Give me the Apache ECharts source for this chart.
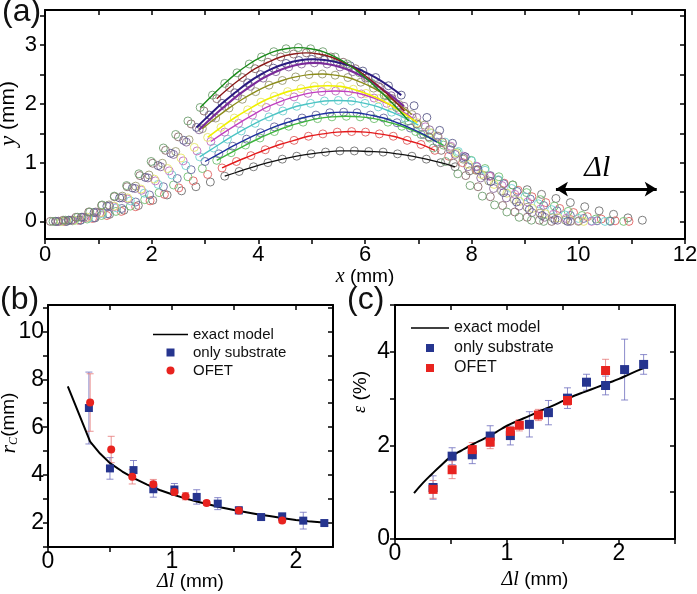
<!DOCTYPE html>
<html><head><meta charset="utf-8">
<script src="https://cdn.jsdelivr.net/npm/echarts@6/dist/echarts.min.js"></script>
<style>html,body{margin:0;padding:0;background:#fff}#c{width:697px;height:594px}</style>
</head><body><div id="c"></div>
<script>
// ================= Panel (a): measured profiles (x, y in mm) =================
const p1x = [0.4,0.67,0.94,1.21,1.48,1.75,2.02,2.29,2.56,2.83,3.1,3.37,3.64,3.91,4.18,4.45,4.72,4.99,5.26,5.53,5.8,6.07,6.34,6.61,6.88,7.15,7.42,7.69,7.96,8.23,8.5,8.77,9.04,9.31,9.58,9.85,10.12,10.39,10.66,10.93,11.2];
const p1y = [0,0.02,0.06,0.12,0.19,0.27,0.36,0.45,0.52,0.59,0.67,0.77,0.85,0.93,1.0,1.06,1.11,1.15,1.18,1.2,1.2,1.19,1.18,1.15,1.11,1.06,1.0,0.93,0.86,0.78,0.7,0.62,0.54,0.46,0.39,0.32,0.25,0.18,0.12,0.06,0.02];
const p2x = [0.35,0.62,0.89,1.16,1.43,1.7,1.97,2.24,2.51,2.78,3.05,3.32,3.59,3.86,4.13,4.4,4.67,4.94,5.21,5.48,5.75,6.01,6.27,6.53,6.79,7.05,7.31,7.57,7.83,8.09,8.35,8.61,8.87,9.13,9.39,9.65,9.91,10.17,10.43,10.69,10.95];
const p2y = [0,0.02,0.05,0.1,0.17,0.25,0.35,0.46,0.57,0.69,0.8,0.91,1.02,1.12,1.22,1.31,1.38,1.45,1.49,1.52,1.53,1.52,1.49,1.45,1.38,1.31,1.21,1.11,1.0,0.88,0.77,0.65,0.53,0.42,0.32,0.22,0.15,0.08,0.04,0.01,0];
const p3x = [0.25,0.52,0.79,1.06,1.33,1.6,1.87,2.14,2.41,2.68,2.95,3.22,3.49,3.76,4.03,4.3,4.57,4.84,5.11,5.38,5.65,5.91,6.17,6.43,6.69,6.95,7.21,7.47,7.73,7.99,8.25,8.51,8.77,9.03,9.29,9.55,9.81,10.07,10.33,10.59,10.85];
const p3y = [0,0.01,0.04,0.1,0.17,0.26,0.37,0.49,0.62,0.76,0.9,1.04,1.17,1.3,1.42,1.53,1.62,1.69,1.75,1.78,1.79,1.78,1.75,1.69,1.62,1.53,1.42,1.3,1.17,1.04,0.9,0.76,0.62,0.49,0.37,0.26,0.17,0.1,0.04,0.01,0];
const p4x = [0.4,0.66,0.92,1.18,1.44,1.7,1.96,2.22,2.48,2.74,3.0,3.26,3.52,3.78,4.04,4.3,4.56,4.82,5.08,5.34,5.6,5.85,6.1,6.35,6.6,6.85,7.1,7.35,7.6,7.85,8.1,8.35,8.6,8.85,9.1,9.35,9.6,9.85,10.1,10.35,10.6];
const p4y = [0,0.02,0.06,0.13,0.22,0.33,0.45,0.59,0.73,0.88,1.02,1.15,1.28,1.4,1.51,1.61,1.69,1.76,1.81,1.85,1.86,1.85,1.81,1.76,1.68,1.59,1.48,1.35,1.22,1.08,0.93,0.78,0.64,0.51,0.38,0.27,0.18,0.1,0.05,0.01,0];
const p5x = [0.3,0.56,0.82,1.08,1.34,1.6,1.86,2.12,2.38,2.64,2.9,3.16,3.42,3.68,3.94,4.2,4.46,4.72,4.98,5.24,5.5,5.75,6.0,6.25,6.5,6.75,7.0,7.25,7.5,7.75,8.0,8.25,8.5,8.75,9.0,9.25,9.5,9.75,10.0,10.25,10.5];
const p5y = [0,0.02,0.06,0.13,0.23,0.35,0.48,0.63,0.79,0.95,1.1,1.25,1.4,1.54,1.67,1.78,1.88,1.96,2.01,2.05,2.06,2.05,2.01,1.95,1.86,1.76,1.64,1.5,1.35,1.19,1.03,0.87,0.71,0.56,0.42,0.3,0.2,0.11,0.05,0.01,0];
const p6x = [0.25,0.51,0.77,1.03,1.29,1.55,1.81,2.07,2.33,2.59,2.85,3.11,3.37,3.63,3.89,4.15,4.41,4.67,4.93,5.19,5.45,5.69,5.93,6.17,6.41,6.65,6.89,7.13,7.37,7.61,7.85,8.09,8.33,8.57,8.81,9.05,9.29,9.53,9.77,10.01,10.25];
const p6y = [0,0.02,0.06,0.14,0.25,0.38,0.53,0.69,0.86,1.03,1.2,1.36,1.52,1.67,1.81,1.94,2.04,2.12,2.18,2.21,2.22,2.21,2.17,2.1,2.01,1.9,1.76,1.61,1.45,1.28,1.11,0.94,0.77,0.61,0.46,0.33,0.21,0.12,0.05,0.01,0];
const p7x = [0.3,0.55,0.8,1.05,1.3,1.55,1.8,2.05,2.3,2.55,2.8,3.05,3.3,3.55,3.8,4.05,4.3,4.55,4.8,5.05,5.3,5.54,5.78,6.02,6.26,6.5,6.74,6.98,7.22,7.46,7.7,7.94,8.18,8.42,8.66,8.9,9.14,9.38,9.62,9.86,10.1];
const p7y = [0,0.02,0.07,0.15,0.26,0.4,0.55,0.72,0.9,1.08,1.26,1.43,1.6,1.76,1.9,2.03,2.13,2.21,2.26,2.3,2.31,2.3,2.25,2.18,2.09,1.97,1.83,1.68,1.51,1.34,1.16,0.97,0.8,0.63,0.48,0.34,0.22,0.13,0.06,0.01,0];
const p8x = [0.2,0.45,0.7,0.95,1.2,1.45,1.7,1.95,2.2,2.45,2.7,2.95,3.2,3.45,3.7,3.95,4.2,4.45,4.7,4.95,5.2,5.44,5.68,5.92,6.16,6.4,6.64,6.88,7.12,7.36,7.6,7.84,8.08,8.32,8.56,8.8,9.04,9.28,9.52,9.76,10.0];
const p8y = [0,0.02,0.07,0.16,0.28,0.43,0.6,0.79,0.99,1.19,1.39,1.58,1.76,1.93,2.08,2.21,2.32,2.4,2.46,2.5,2.51,2.49,2.45,2.37,2.27,2.14,1.99,1.82,1.64,1.45,1.26,1.06,0.87,0.69,0.52,0.37,0.24,0.14,0.06,0.02,0];
const p9x = [0.25,0.49,0.73,0.97,1.21,1.45,1.69,1.93,2.17,2.41,2.65,2.89,3.13,3.37,3.61,3.85,4.09,4.33,4.57,4.81,5.05,5.29,5.53,5.77,6.01,6.25,6.49,6.73,6.97,7.21,7.45,7.69,7.93,8.17,8.41,8.65,8.89,9.13,9.37,9.61,9.85];
const p9y = [0,0.02,0.07,0.15,0.26,0.4,0.56,0.74,0.93,1.14,1.35,1.56,1.77,1.96,2.14,2.3,2.44,2.55,2.63,2.68,2.7,2.68,2.63,2.55,2.44,2.3,2.14,1.96,1.77,1.56,1.35,1.14,0.93,0.74,0.56,0.4,0.26,0.15,0.07,0.02,0];
const p10x = [0.2,0.44,0.68,0.92,1.16,1.4,1.64,1.88,2.12,2.36,2.6,2.84,3.08,3.32,3.56,3.8,4.04,4.28,4.52,4.76,5.0,5.24,5.48,5.72,5.96,6.2,6.44,6.68,6.92,7.16,7.4,7.64,7.88,8.12,8.36,8.6,8.84,9.08,9.32,9.56,9.8];
const p10y = [0,0.02,0.07,0.15,0.26,0.4,0.57,0.75,0.95,1.16,1.38,1.6,1.81,2.01,2.19,2.36,2.5,2.61,2.69,2.74,2.76,2.75,2.71,2.65,2.56,2.45,2.31,2.15,1.97,1.77,1.55,1.33,1.1,0.88,0.68,0.49,0.33,0.2,0.1,0.03,0];
const p11x = [0.1,0.34,0.58,0.82,1.06,1.3,1.54,1.78,2.02,2.26,2.5,2.74,2.98,3.22,3.46,3.7,3.94,4.18,4.42,4.66,4.9,5.13,5.36,5.59,5.82,6.05,6.28,6.51,6.74,6.97,7.2,7.43,7.66,7.89,8.12,8.35,8.58,8.81,9.04,9.27,9.5];
const p11y = [0,0.02,0.07,0.16,0.27,0.42,0.59,0.78,0.99,1.21,1.44,1.66,1.88,2.09,2.28,2.45,2.6,2.71,2.8,2.85,2.87,2.85,2.8,2.71,2.6,2.45,2.28,2.09,1.88,1.66,1.44,1.21,0.99,0.78,0.59,0.42,0.27,0.16,0.07,0.02,0];
const p12x = [0.15,0.38,0.61,0.84,1.07,1.3,1.53,1.76,1.99,2.22,2.45,2.68,2.91,3.14,3.37,3.6,3.83,4.06,4.29,4.52,4.75,4.98,5.21,5.44,5.67,5.9,6.13,6.36,6.59,6.82,7.05,7.28,7.51,7.74,7.97,8.2,8.43,8.66,8.89,9.12,9.35];
const p12y = [0,0.02,0.07,0.16,0.28,0.43,0.61,0.81,1.02,1.25,1.48,1.71,1.94,2.15,2.35,2.53,2.68,2.8,2.89,2.94,2.96,2.94,2.89,2.8,2.68,2.53,2.35,2.15,1.94,1.71,1.48,1.25,1.02,0.81,0.61,0.43,0.28,0.16,0.07,0.02,0];
// x-range covered by each fitted curve
const fitFrom = [3.3,3.1,3.1,3.0,2.85,3.0,3.0,2.95,2.8,2.8,3.15,2.85];
const fitTo   = [7.7,7.4,7.5,7.4,7.2,7.0,7.0,6.9,6.8,6.8,6.8,6.85];
// Δl arrow (data coordinates)
const arrowFrom = [9.58, 0.55];
const arrowTo = [11.47, 0.55];

// ================= Panel (b): r_C vs Δl =================
const bModelX = [0.16,0.34,0.42,0.5,0.6,0.7,0.8,0.9,1.0,1.1,1.2,1.3,1.4,1.5,1.6,1.7,1.8,1.9,2.0,2.1,2.22];
const bModelY = [7.7,5.4,4.9,4.5,4.15,3.85,3.6,3.38,3.2,3.04,2.9,2.77,2.65,2.54,2.45,2.36,2.28,2.2,2.13,2.07,2.02];
const bSubX = [0.33,0.5,0.69,0.85,1.02,1.2,1.37,1.54,1.72,1.89,2.06,2.23];
const bSubY = [6.8,4.28,4.21,3.41,3.4,3.09,2.81,2.53,2.25,2.28,2.1,2.0];
const bSubErr = [1.5,0.45,0.4,0.33,0.25,0.3,0.25,0.15,0.08,0.1,0.35,0.06];
const bOfetX = [0.34,0.51,0.68,0.85,1.02,1.11,1.28,1.54,1.89];
const bOfetY = [7.03,5.07,3.93,3.62,3.3,3.12,2.84,2.52,2.11];
const bOfetErr = [1.2,0.55,0.3,0.2,0.12,0.15,0.1,0.1,0.1];

// ================= Panel (c): ε vs Δl =================
const cModelX = [0.17,0.25,0.33,0.4,0.5,0.6,0.7,0.8,0.9,1.0,1.1,1.2,1.3,1.4,1.5,1.6,1.7,1.8,1.9,2.0,2.1,2.22];
const cModelY = [0.98,1.2,1.39,1.55,1.76,1.9,2.03,2.15,2.28,2.42,2.53,2.63,2.74,2.84,2.95,3.06,3.15,3.24,3.33,3.42,3.53,3.65];
const cSubX = [0.34,0.51,0.69,0.85,1.03,1.2,1.37,1.54,1.71,1.88,2.05,2.22];
const cSubY = [1.1,1.77,1.8,2.2,2.21,2.45,2.7,3.01,3.35,3.28,3.62,3.73];
const cSubErr = [0.25,0.18,0.19,0.22,0.2,0.27,0.26,0.22,0.17,0.2,0.65,0.21];
const cOfetX = [0.34,0.51,0.69,0.85,1.03,1.11,1.28,1.54,1.88];
const cOfetY = [1.06,1.48,1.91,2.07,2.3,2.43,2.65,2.96,3.6];
const cOfetErr = [0.19,0.19,0.15,0.14,0.1,0.12,0.12,0.1,0.24];

// ================= Tick values =================
const aXTicks = [0,1,2,3,4,5,6,7,8,9,10,11,12];
const aXLabels = [0,2,4,6,8,10,12];
const aYTicks = [0,0.5,1,1.5,2,2.5,3,3.5];
const aYLabels = [0,1,2,3];
const bXTicks = [0,0.5,1,1.5,2];
const bXLabels = [0,1,2];
const bYTicks = [1,2,3,4,5,6,7,8,9,10,11];
const bYLabels = [2,4,6,8,10];
const cXTicks = [0,0.5,1,1.5,2,2.5];
const cXLabels = [0,1,2];
const cYTicks = [0,1,2,3,4,5];
const cYLabels = [0,2,4];

// ================= Styles =================
const SANS = 'Liberation Sans, Arial, sans-serif';
const SERIF = 'Liberation Serif, Times New Roman, serif';
const lineColors = ['#111111','#e41a1c','#3cb43c','#1f2f9f','#4cc4c4','#c040c0','#f0f000','#8c8c1a','#7a2a9a','#2a1a80','#8b1a1a','#1a8a1a'];
const circleColors = ['#707070','#e06060','#70c070','#6a6aa0','#70d0d0','#c070c0','#e6e66a','#9a9a70','#8a6a9a','#5a5a8a','#8a6a6a','#70a070'];
const lineWidths = [1.3,1.4,1.4,1.4,1.4,1.4,1.6,1.4,2.2,2.0,1.4,1.4];

const profX = [p1x,p2x,p3x,p4x,p5x,p6x,p7x,p8x,p9x,p10x,p11x,p12x];
const profY = [p1y,p2y,p3y,p4y,p5y,p6y,p7y,p8y,p9y,p10y,p11y,p12y];

const chart = echarts.init(document.getElementById('c'), null, {renderer:'canvas'});

const italicRich = (size) => ({ i:{fontStyle:'italic', fontFamily:SERIF, fontSize:size, color:'#000'} });

function bottomAxis(grid, min, max, ticks, labels, name, gap, margin, fs){
  return {type:'value', gridIndex:grid, position:'bottom', min, max,
    axisLine:{show:true, onZero:false, lineStyle:{color:'#000', width:2}},
    axisTick:{show:true, inside:false, length:5, customValues:ticks, lineStyle:{color:'#000', width:1.5}},
    axisLabel:{show:true, customValues:labels, fontSize:fs, fontFamily:SANS, color:'#000', margin:margin},
    splitLine:{show:false},
    name:name, nameLocation:'middle', nameGap:gap, nameMoveOverlap:false,
    nameTextStyle:{fontSize:19, fontFamily:SANS, color:'#000', rich:italicRich(20)}};
}
function topAxis(grid, min, max, ticks){
  return {type:'value', gridIndex:grid, position:'top', min, max,
    axisLine:{show:true, onZero:false, lineStyle:{color:'#000', width:2}},
    axisTick:{show:true, inside:true, length:5, customValues:ticks, lineStyle:{color:'#000', width:1.5}},
    axisLabel:{show:false}, splitLine:{show:false}};
}
function leftAxis(grid, min, max, ticks, labels, name, gap, margin, pad, rich, fs, nfs){
  return {type:'value', gridIndex:grid, position:'left', min, max,
    axisLine:{show:true, onZero:false, lineStyle:{color:'#000', width:2}},
    axisTick:{show:true, inside:false, length:5, customValues:ticks, lineStyle:{color:'#000', width:1.5}},
    axisLabel:{show:true, customValues:labels, fontSize:fs, fontFamily:SANS, color:'#000', margin:margin},
    splitLine:{show:false},
    name:name, nameLocation:'middle', nameGap:gap, nameRotate:90, nameMoveOverlap:false,
    nameTextStyle:{fontSize:nfs, fontFamily:SANS, color:'#000', padding:pad, rich:rich}};
}
function rightAxis(grid, min, max, ticks){
  return {type:'value', gridIndex:grid, position:'right', min, max,
    axisLine:{show:true, onZero:false, lineStyle:{color:'#000', width:2}},
    axisTick:{show:true, inside:true, length:5, customValues:ticks, lineStyle:{color:'#000', width:1.5}},
    axisLabel:{show:false}, splitLine:{show:false}};
}

function errRender(color){
  return function(params, api){
    const x = api.value(0), y = api.value(1), e = api.value(2);
    const t = api.coord([x, y + e]), b = api.coord([x, y - e]);
    const w = 3.5;
    const st = {stroke:color, lineWidth:1};
    return {type:'group', children:[
      {type:'line', shape:{x1:t[0], y1:t[1], x2:b[0], y2:b[1]}, style:st},
      {type:'line', shape:{x1:t[0]-w, y1:t[1], x2:t[0]+w, y2:t[1]}, style:st},
      {type:'line', shape:{x1:b[0]-w, y1:b[1], x2:b[0]+w, y2:b[1]}, style:st}
    ]};
  };
}
const zip2 = (xs, ys) => xs.map((x, i) => [x, ys[i]]);
const zip3 = (xs, ys, es) => xs.map((x, i) => [x, ys[i], es[i]]);

const series = [];
// panel (a)
profX.forEach((xs, k) => {
  const pts = zip2(xs, profY[k]);
  const sc = {type:'scatter', xAxisIndex:0, yAxisIndex:0, data:pts, symbol:'circle', symbolSize:8,
    itemStyle:{color:'rgba(0,0,0,0)', borderColor:circleColors[k], borderWidth:1, opacity:0.9},
    silent:true, z:2, animation:false};
  if (k === 0) {
    sc.markLine = {silent:true, symbol:['arrow','arrow'], symbolSize:[11,12], animation:false,
      lineStyle:{color:'#000', width:3, type:'solid'},
      label:{show:true, formatter:'Δl', position:'insideMiddleTop', distance:6, fontSize:30,
        fontStyle:'italic', fontFamily:SERIF, color:'#000', padding:[0,18,0,0]},
      emphasis:{disabled:true},
      data:[[{coord:arrowFrom}, {coord:arrowTo}]]};
  }
  series.push(sc);
  series.push({type:'line', xAxisIndex:0, yAxisIndex:0,
    data:pts.filter(p => p[0] >= fitFrom[k] && p[0] <= fitTo[k]),
    smooth:0.4, symbol:'none', lineStyle:{color:lineColors[k], width:lineWidths[k]},
    silent:true, z:3, animation:false});
});
// panel (b)
series.push({type:'custom', name:'errSubB', xAxisIndex:2, yAxisIndex:2, data:zip3(bSubX,bSubY,bSubErr), renderItem:errRender('rgba(110,110,190,0.8)'), z:3, silent:true, animation:false});
series.push({type:'custom', name:'errOfetB', xAxisIndex:2, yAxisIndex:2, data:zip3(bOfetX,bOfetY,bOfetErr), renderItem:errRender('rgba(230,120,120,0.8)'), z:3, silent:true, animation:false});
series.push({type:'line', name:'exact model', xAxisIndex:2, yAxisIndex:2, data:zip2(bModelX,bModelY), symbol:'none', smooth:false, lineStyle:{color:'#000', width:2}, itemStyle:{color:'#000'}, z:4, animation:false});
series.push({type:'scatter', name:'only substrate', xAxisIndex:2, yAxisIndex:2, data:zip2(bSubX,bSubY), symbol:'rect', symbolSize:8, itemStyle:{color:'#26358f', opacity:1}, z:5, animation:false});
series.push({type:'scatter', name:'OFET', xAxisIndex:2, yAxisIndex:2, data:zip2(bOfetX,bOfetY), symbol:'circle', symbolSize:8, itemStyle:{color:'#e8231f', opacity:1}, z:6, animation:false});
// panel (c)
series.push({type:'custom', name:'errSubC', xAxisIndex:4, yAxisIndex:4, data:zip3(cSubX,cSubY,cSubErr), renderItem:errRender('rgba(110,110,190,0.8)'), z:3, silent:true, animation:false});
series.push({type:'custom', name:'errOfetC', xAxisIndex:4, yAxisIndex:4, data:zip3(cOfetX,cOfetY,cOfetErr), renderItem:errRender('rgba(230,120,120,0.8)'), z:3, silent:true, animation:false});
series.push({type:'line', name:'exact model', xAxisIndex:4, yAxisIndex:4, data:zip2(cModelX,cModelY), symbol:'none', smooth:true, lineStyle:{color:'#000', width:2}, itemStyle:{color:'#000'}, z:4, animation:false});
series.push({type:'scatter', name:'only substrate', xAxisIndex:4, yAxisIndex:4, data:zip2(cSubX,cSubY), symbol:'rect', symbolSize:9, itemStyle:{color:'#26358f', opacity:1}, z:5, animation:false});
series.push({type:'scatter', name:'OFET', xAxisIndex:4, yAxisIndex:4, data:zip2(cOfetX,cOfetY), symbol:'rect', symbolSize:9, itemStyle:{color:'#e8231f', opacity:1}, z:6, animation:false});

const SQ = 'path://M0,0H10V10H0Z';
const LN = 'path://M0,0H200V9H0Z';
const option = {
  backgroundColor:'#fff',
  animation:false,
  grid:[
    {left:45, top:10, width:640, height:229, outerBoundsMode:'none', containLabel:false},
    {left:48, top:305, width:285, height:242, outerBoundsMode:'none', containLabel:false},
    {left:395, top:305, width:280, height:234, outerBoundsMode:'none', containLabel:false}
  ],
  xAxis:[
    bottomAxis(0, 0, 12, aXTicks, aXLabels, '{i|x} (mm)', 28, 5, 22),
    topAxis(0, 0, 12, aXTicks),
    bottomAxis(1, 0, 2.3, bXTicks, bXLabels, '{i|Δl} (mm)', 25, 3, 23),
    topAxis(1, 0, 2.3, bXTicks),
    bottomAxis(2, 0, 2.5, cXTicks, cXLabels, '{i|Δl} (mm)', 31, 3, 23),
    topAxis(2, 0, 2.5, cXTicks)
  ],
  yAxis:[
    leftAxis(0, -0.3, 3.6, aYTicks, aYLabels, '{i|y} (mm)', 25, 8, [0,0,0,22], italicRich(23), 22, 21),
    rightAxis(0, -0.3, 3.6, aYTicks),
    leftAxis(1, 1, 11.1, bYTicks, bYLabels, '{i|r}{s|C}(mm)', 28, 4, [0,0,0,6],
      {i:{fontStyle:'italic', fontFamily:SERIF, fontSize:22, color:'#000'}, s:{fontStyle:'italic', fontFamily:SERIF, fontSize:12, color:'#000', verticalAlign:'bottom'}}, 23, 19),
    rightAxis(1, 1, 11.1, bYTicks),
    leftAxis(2, 0, 5, cYTicks, cYLabels, '{i|ε} (%)', 25, 5, [0,0,0,60], italicRich(18), 23, 19),
    rightAxis(2, 0, 5, cYTicks)
  ],
  legend:[
    {left:148, top:322, orient:'vertical', itemWidth:35, itemHeight:8, itemGap:3, selectedMode:false,
      textStyle:{fontSize:15, fontFamily:SANS, color:'#111'},
      data:[{name:'exact model', icon:LN}, {name:'only substrate', icon:SQ}, {name:'OFET', icon:'circle'}]},
    {left:406, top:315, orient:'vertical', itemWidth:38, itemHeight:8, itemGap:4, selectedMode:false,
      textStyle:{fontSize:16, fontFamily:SANS, color:'#111'},
      data:[{name:'exact model', icon:LN}, {name:'only substrate', icon:SQ}, {name:'OFET', icon:SQ}]}
  ],
  graphic:[
    {type:'text', left:2, top:-4, style:{text:'(a)', fontSize:32, fontFamily:SANS, fill:'#111'}},
    {type:'text', left:0, top:284, style:{text:'(b)', fontSize:32, fontFamily:SANS, fill:'#111'}},
    {type:'text', left:347, top:284, style:{text:'(c)', fontSize:32, fontFamily:SANS, fill:'#111'}}
  ],
  series:series
};
chart.setOption(option);
</script>
</body></html>
